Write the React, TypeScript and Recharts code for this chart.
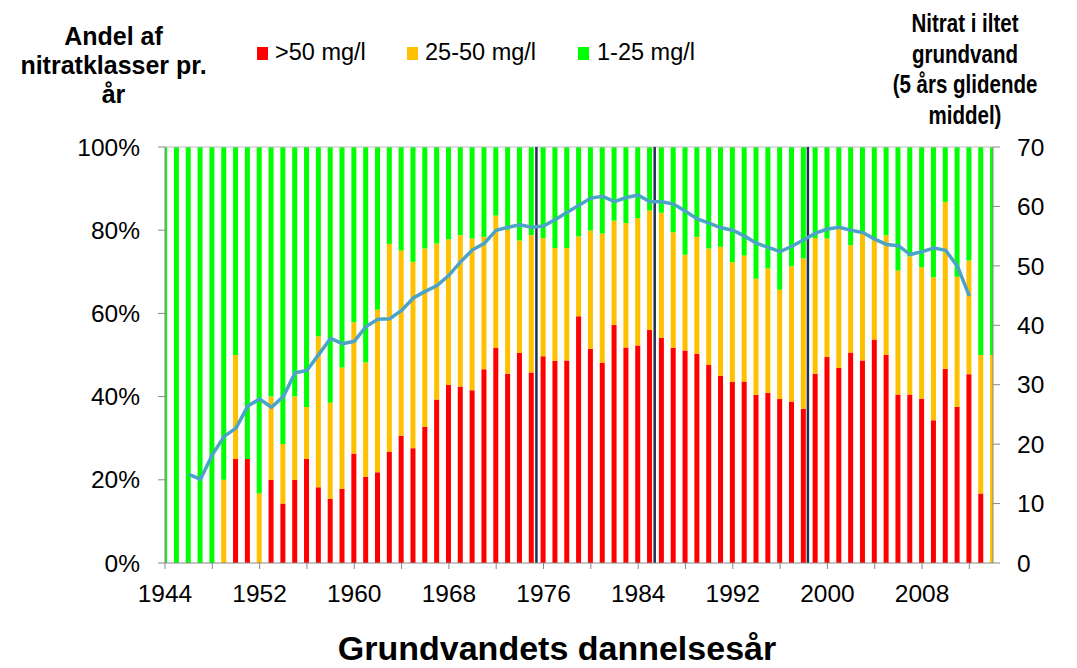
import React from 'react';
import {
  ComposedChart,
  Bar,
  Line,
  XAxis,
  YAxis,
  ReferenceLine
} from 'recharts';

// Formation year of the groundwater
const years = [
  1944, 1945, 1946, 1947, 1948, 1949, 1950, 1951, 1952, 1953,
  1954, 1955, 1956, 1957, 1958, 1959, 1960, 1961, 1962, 1963,
  1964, 1965, 1966, 1967, 1968, 1969, 1970, 1971, 1972, 1973,
  1974, 1975, 1976, 1977, 1978, 1979, 1980, 1981, 1982, 1983,
  1984, 1985, 1986, 1987, 1988, 1989, 1990, 1991, 1992, 1993,
  1994, 1995, 1996, 1997, 1998, 1999, 2000, 2001, 2002, 2003,
  2004, 2005, 2006, 2007, 2008, 2009, 2010, 2011, 2012, 2013,
  2014
];

// Share (%) per nitrate class
const over50 = [
  0, 0, 0, 0, 0, 0, 25, 25, 0, 20,
  14.3, 20, 25, 18.2, 15.4, 17.8, 26.3, 20.7, 21.8, 26.7,
  30.6, 27.6, 32.7, 39.3, 42.8, 42.4, 41.5, 46.6, 51.7, 45.5,
  50.5, 45.8, 49.7, 48.6, 48.7, 59.3, 51.5, 48.1, 57.2, 51.8,
  52.3, 56.0, 54.1, 51.7, 51.1, 50.3, 47.6, 45.0, 43.5, 43.6,
  40.4, 40.9, 39.4, 38.8, 37.1, 45.5, 49.5, 46.9, 50.6, 48.7,
  53.7, 50.0, 40.5, 40.5, 39.5, 34.3, 46.7, 37.5, 45.4, 16.7,
  0
];

const from25to50 = [
  0, 0, 0, 0, 0, 20, 25, 0, 16.7, 20,
  14.3, 20, 12.5, 36.3, 23.1, 29.2, 31.6, 27.5, 39.1, 50,
  44.5, 44.8, 42.9, 37.5, 35, 36.4, 36.5, 31.8, 31.8, 34.6,
  27, 33, 28.4, 27.1, 27, 19.2, 28.4, 31.1, 25.1, 29.9,
  30.6, 28.7, 30.1, 27.8, 23, 28.1, 28, 31, 28.8, 30.3,
  27.9, 29.9, 26.3, 32.5, 36.1, 32.6, 28.5, 33.9, 25.8, 30.4,
  23.9, 28.8, 29.8, 33.2, 31.6, 34.4, 40.1, 31.3, 27.3, 33.3,
  50
];

const from1to25 = [
  100, 100, 100, 100, 100, 80, 50, 75, 83.3, 60,
  71.4, 60, 62.5, 45.5, 61.5, 53, 42.1, 51.8, 39.1, 23.3,
  24.9, 27.6, 24.4, 23.2, 22.2, 21.2, 22, 21.6, 16.5, 19.9,
  22.5, 21.2, 21.9, 24.3, 24.3, 21.5, 20.1, 20.8, 17.7, 18.3,
  17.1, 15.3, 15.8, 20.5, 25.9, 21.6, 24.4, 24, 27.7, 26.1,
  31.7, 29.2, 34.3, 28.7, 26.8, 21.9, 22, 19.2, 23.6, 20.9,
  22.4, 21.2, 29.7, 26.3, 28.9, 31.3, 13.2, 31.2, 27.3, 50,
  50
];

// Nitrate in oxic groundwater, 5-year moving average (mg/l)
const movingAvg = [
  null, null, 14.9, 14.1, 18.2, 21.3, 22.7, 26.4, 27.6, 26.2,
  28.0, 32.0, 32.4, 35.1, 37.8, 36.9, 37.3, 39.8, 41.0, 41.1,
  42.5, 44.6, 45.7, 46.7, 48.4, 50.7, 52.7, 53.8, 56.0, 56.5,
  56.9, 56.5, 56.7, 57.8, 59.0, 60.2, 61.4, 61.7, 60.8, 61.5,
  61.9, 60.8, 60.8, 60.4, 59.2, 57.9, 57.2, 56.4, 56.0, 55.0,
  53.8, 53.1, 52.4, 53.3, 54.4, 55.5, 56.2, 56.5, 56.0, 55.6,
  54.5, 53.6, 53.4, 51.9, 52.4, 53.0, 52.6, 49.9, 44.9, null,
  null
];

const xTicks = [
  1944, 1948, 1952, 1956, 1960, 1964, 1968, 1972, 1976, 1980,
  1984, 1988, 1992, 1996, 2000, 2004, 2008, 2012
];
const leftTicks = [0, 20, 40, 60, 80, 100];
const rightTicks = [0, 10, 20, 30, 40, 50, 60, 70];
const markerYears = [1975.4, 1985.4, 1998.35];

const series = [
  { key: 'over50', name: '>50 mg/l', color: '#FF0000' },
  { key: 'mid', name: '25-50 mg/l', color: '#FFC000' },
  { key: 'low', name: '1-25 mg/l', color: '#00FF00' }
];

const data = years.map((year, i) => ({
  year,
  over50: over50[i],
  mid: from25to50[i],
  low: from1to25[i],
  avg: movingAvg[i]
}));

const FONT = '"Liberation Sans", Arial, Helvetica, sans-serif';
const AXIS_GREY = '#888888';
const tickStyle = { fontSize: 24.5, fill: '#000', fontFamily: FONT };

const legendPos = [
  { sq: 257, text: 275 },
  { sq: 407, text: 425 },
  { sq: 578, text: 597 }
];

export default function App() {
  return (
    <div
      style={{
        position: 'absolute',
        left: 0,
        top: 0,
        width: 1077,
        height: 668,
        background: '#fff',
        fontFamily: FONT,
        color: '#000'
      }}
    >
      {/* left axis title */}
      <div
        style={{
          position: 'absolute',
          left: 0,
          top: 22,
          width: 227,
          textAlign: 'center',
          fontSize: 25,
          fontWeight: 'bold',
          lineHeight: '29px'
        }}
      >
        Andel af
        <br />
        nitratklasser pr.
        <br />
        år
      </div>

      {/* right axis title */}
      <div
        style={{
          position: 'absolute',
          left: 845,
          top: 8,
          width: 240,
          textAlign: 'center',
          fontSize: 25,
          fontWeight: 'bold',
          lineHeight: '30.5px',
          transform: 'scaleX(0.82)',
          transformOrigin: '120px 0'
        }}
      >
        Nitrat i iltet
        <br />
        grundvand
        <br />
        (5 års glidende
        <br />
        middel)
      </div>

      {/* legend */}
      {series.map((s, i) => (
        <React.Fragment key={s.key}>
          <div
            style={{
              position: 'absolute',
              left: legendPos[i].sq,
              top: 47,
              width: 11,
              height: 13,
              background: s.color
            }}
          />
          <div
            style={{
              position: 'absolute',
              left: legendPos[i].text,
              top: 39,
              fontSize: 23.5,
              lineHeight: '26px',
              whiteSpace: 'nowrap'
            }}
          >
            {s.name}
          </div>
        </React.Fragment>
      ))}

      {/* x axis title */}
      <div
        style={{
          position: 'absolute',
          left: 257,
          top: 628,
          width: 600,
          textAlign: 'center',
          fontSize: 34,
          fontWeight: 'bold',
          lineHeight: '40px'
        }}
      >
        Grundvandets dannelsesår
      </div>

      <div style={{ position: 'absolute', left: 0, top: 0 }}>
        <ComposedChart
          width={1077}
          height={668}
          data={data}
          margin={{ top: 147, right: 24, bottom: 45, left: 85 }}
        >
          <XAxis
            dataKey="year"
            type="number"
            domain={[1944, 2014]}
            allowDataOverflow
            ticks={xTicks}
            interval={0}
            tickFormatter={(v: number) => ((v - 1944) % 8 === 0 ? String(v) : '')}
            tick={tickStyle}
            stroke={AXIS_GREY}
            tickSize={6}
            tickMargin={16}
            height={60}
          />
          <YAxis
            yAxisId="left"
            orientation="left"
            domain={[0, 100]}
            ticks={leftTicks}
            interval={0}
            tickFormatter={(v: number) => `${v}%`}
            tick={tickStyle}
            stroke={AXIS_GREY}
            tickSize={7}
            tickMargin={18}
            width={80}
          />
          <YAxis
            yAxisId="right"
            orientation="right"
            domain={[0, 70]}
            ticks={rightTicks}
            interval={0}
            tick={tickStyle}
            stroke={AXIS_GREY}
            tickSize={7}
            tickMargin={17}
            width={60}
          />

          <ReferenceLine yAxisId="left" y={100} stroke="#BBBBBB" strokeWidth={1} />

          {series.map((s) => (
            <Bar
              key={s.key}
              yAxisId="left"
              dataKey={s.key}
              name={s.name}
              stackId="n"
              fill={s.color}
              barSize={5}
              isAnimationActive={false}
            />
          ))}

          {markerYears.map((x) => (
            <ReferenceLine key={x} yAxisId="left" x={x} stroke="#1F2F4F" strokeWidth={2.5} />
          ))}

          <Line
            yAxisId="right"
            dataKey="avg"
            type="linear"
            stroke="#4BA3C8"
            strokeWidth={3.5}
            dot={false}
            isAnimationActive={false}
          />
        </ComposedChart>
      </div>
    </div>
  );
}
